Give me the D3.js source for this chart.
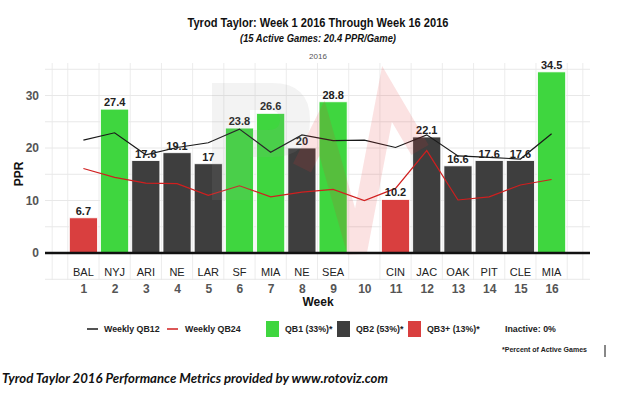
<!DOCTYPE html>
<html><head><meta charset="utf-8">
<script src="https://cdnjs.cloudflare.com/ajax/libs/d3/7.8.5/d3.min.js"></script>
<style>
html,body{margin:0;padding:0;background:#fff;}
svg{display:block;font-family:"Liberation Sans",Arial,sans-serif;}
</style></head>
<body><svg id="c" width="625" height="397"></svg>
<script>
const weeks = [1,2,3,4,5,6,7,8,9,10,11,12,13,14,15,16];
const opponents = ["BAL","NYJ","ARI","NE","LAR","SF","MIA","NE","SEA","","CIN","JAC","OAK","PIT","CLE","MIA"];
const ppr = [6.7,27.4,17.6,19.1,17,23.8,26.6,20,28.8,null,10.2,22.1,16.6,17.6,17.6,34.5];
const tier = ["QB3+","QB1","QB2","QB2","QB2","QB1","QB1","QB2","QB1",null,"QB3+","QB2","QB2","QB2","QB2","QB1"];
const qb12 = [21.5,22.9,18.7,20.1,21.0,23.6,19.2,22.5,21.4,21.5,20.1,22.5,18.5,18.2,17.9,22.7];
const qb24 = [16.1,14.4,13.3,13.2,11.0,12.8,10.7,11.6,12.1,10.0,12.3,19.5,10.1,10.7,12.95,14.0];
const yTicks = [0,10,20,30];
const yGrid = [-5,5,10,15,20,25,30,35];
const tierNames = ["QB1","QB2","QB3+"];
const tierLabels = ["QB1 (33%)*","QB2 (53%)*","QB3+ (13%)*"];
const tierColors = ["#3fd63f","#3e3e3e","#d93f3f"];

const svg = d3.select("#c");
const L = 45, R = 590, T = 63, B = 280;
const x = d3.scalePoint().domain(weeks).range([L, R]).padding(1.23);
const step = x.step();
const y = d3.scaleLinear().domain([0, 35]).range([253, 69.25]);
const color = d3.scaleOrdinal().domain(tierNames).range(tierColors);

// grid
const g = svg.append("g");
const vx = [x(1) - step].concat(weeks.map(w => x(w) - step/2), [x(16) + step/2, x(16) + step]);
g.selectAll("line.v").data(vx).join("line")
  .attr("x1", d => d).attr("x2", d => d).attr("y1", T).attr("y2", B)
  .attr("stroke", "#ececec").attr("stroke-width", 1);
g.selectAll("line.h").data(yGrid).join("line")
  .attr("x1", L).attr("x2", R).attr("y1", d => y(d)).attr("y2", d => y(d))
  .attr("stroke", "#e8e8e8").attr("stroke-width", 1);

// y axis labels
const yAxis = d3.axisLeft(y).tickValues(yTicks).tickSize(0).tickPadding(6);
const ya = svg.append("g").attr("transform", `translate(${L},0)`).call(yAxis);
ya.select(".domain").remove();
ya.selectAll("text").attr("font-size", 12).attr("font-weight", "bold").attr("fill", "#555")
  .attr("font-family", "Liberation Sans, Arial, sans-serif");

svg.append("text").attr("transform", "translate(23,174) rotate(-90)")
  .attr("text-anchor", "middle").attr("font-size", 12).attr("font-weight", "bold").attr("fill", "#111").text("PPR");

// bars
const data = weeks.map((w, i) => ({w, v: ppr[i], t: tier[i], opp: opponents[i]}));
const bw = step * 0.9;
svg.append("g").selectAll("rect").data(data.filter(d => d.v != null)).join("rect")
  .attr("x", d => x(d.w) - bw/2).attr("width", bw)
  .attr("y", d => y(d.v)).attr("height", d => y(0) - y(d.v))
  .attr("fill", d => color(d.t)).attr("stroke", "#fff").attr("stroke-width", 0.8);

// lines
const line = d3.line().x((d, i) => x(weeks[i])).y(d => y(d));
svg.append("path").datum(qb12).attr("d", line).attr("fill", "none").attr("stroke", "#1a1a1a").attr("stroke-width", 1.2);
svg.append("path").datum(qb24).attr("d", line).attr("fill", "none").attr("stroke", "#d01f1f").attr("stroke-width", 1.2);

// bar labels
svg.append("g").selectAll("text").data(data.filter(d => d.v != null)).join("text")
  .attr("x", d => x(d.w)).attr("y", d => y(d.v) - 3)
  .attr("text-anchor", "middle").attr("font-size", 11).attr("font-weight", "bold").attr("fill", "#222")
  .text(d => d.v);

// watermark
const wm = svg.append("g").attr("pointer-events", "none");
wm.append("path")
  .attr("d", "M212,83 L272,83 Q310,83 310,120 Q310,157 272,157 L250,157 L250,200 L212,200 Z M250,110 L268,110 Q280,110 280,120 Q280,130 268,130 L250,130 Z")
  .attr("fill", "#9a9a9a").attr("fill-rule", "evenodd").attr("opacity", 0.12);
wm.append("polyline").attr("points", "302,168 322,128 357,252 387,94 420,150")
  .attr("fill", "none").attr("stroke", "#e03030").attr("stroke-width", 20).attr("stroke-linejoin", "miter").attr("opacity", 0.14);

// zero axis
svg.append("line").attr("x1", L).attr("x2", R).attr("y1", y(0)).attr("y2", y(0)).attr("stroke", "#111").attr("stroke-width", 2.5);

// x labels
svg.append("g").selectAll("text").data(data).join("text")
  .attr("x", d => x(d.w)).attr("y", 276).attr("text-anchor", "middle")
  .attr("font-size", 11).attr("fill", "#222").text(d => d.opp);
const xAxis = d3.axisBottom(x).tickSize(0).tickPadding(0);
const xa = svg.append("g").attr("transform", "translate(0,284)").call(xAxis);
xa.select(".domain").remove();
xa.selectAll("text").attr("font-size", 12).attr("font-weight", "bold").attr("fill", "#555")
  .attr("font-family", "Liberation Sans, Arial, sans-serif").attr("dy", "0.71em");
svg.append("text").attr("x", 318).attr("y", 306).attr("text-anchor", "middle")
  .attr("font-size", 12).attr("font-weight", "bold").attr("fill", "#111").text("Week");

// titles
svg.append("text").attr("x", 318).attr("y", 27).attr("text-anchor", "middle")
  .attr("font-size", 12.5).attr("font-weight", "bold").attr("fill", "#111")
  .attr("textLength", 261).attr("lengthAdjust", "spacingAndGlyphs")
  .text("Tyrod Taylor: Week 1 2016 Through Week 16 2016");
svg.append("text").attr("x", 318).attr("y", 42).attr("text-anchor", "middle")
  .attr("font-size", 10).attr("font-weight", "bold").attr("font-style", "italic").attr("fill", "#111")
  .attr("textLength", 156).attr("lengthAdjust", "spacingAndGlyphs")
  .text("(15 Active Games: 20.4 PPR/Game)");
svg.append("text").attr("x", 318).attr("y", 59).attr("text-anchor", "middle")
  .attr("font-size", 8).attr("fill", "#555").text("2016");

// legend
const lg = svg.append("g").attr("font-size", 8.8).attr("font-weight", "bold").attr("fill", "#222");
const ly = 329;
lg.append("line").attr("x1", 87).attr("x2", 98).attr("y1", ly).attr("y2", ly).attr("stroke", "#1a1a1a").attr("stroke-width", 1.5);
lg.append("text").attr("x", 104).attr("y", ly + 3).text("Weekly QB12");
lg.append("line").attr("x1", 167).attr("x2", 178).attr("y1", ly).attr("y2", ly).attr("stroke", "#d01f1f").attr("stroke-width", 1.5);
lg.append("text").attr("x", 185).attr("y", ly + 3).text("Weekly QB24");
const lx = [266, 337, 408];
tierNames.forEach((t, i) => {
  lg.append("rect").attr("x", lx[i]).attr("y", ly - 8).attr("width", 13).attr("height", 16).attr("fill", color(t));
  lg.append("text").attr("x", lx[i] + 19).attr("y", ly + 3).text(tierLabels[i]);
});
lg.append("text").attr("x", 505).attr("y", ly + 3).text("Inactive: 0%");
svg.append("text").attr("x", 502).attr("y", 352).attr("font-size", 7).attr("font-weight", "bold").attr("fill", "#222")
  .text("*Percent of Active Games");
svg.append("line").attr("x1", 605).attr("x2", 605).attr("y1", 345).attr("y2", 357).attr("stroke", "#111").attr("stroke-width", 1);

// footer
svg.append("text").attr("x", 2).attr("y", 383).attr("font-size", 13).attr("font-weight", "bold").attr("font-style", "italic")
  .attr("font-family", "Lato, 'Open Sans', sans-serif").attr("fill", "#111")
  .attr("textLength", 386).attr("lengthAdjust", "spacingAndGlyphs")
  .text("Tyrod Taylor 2016 Performance Metrics provided by www.rotoviz.com");
</script></body></html>
